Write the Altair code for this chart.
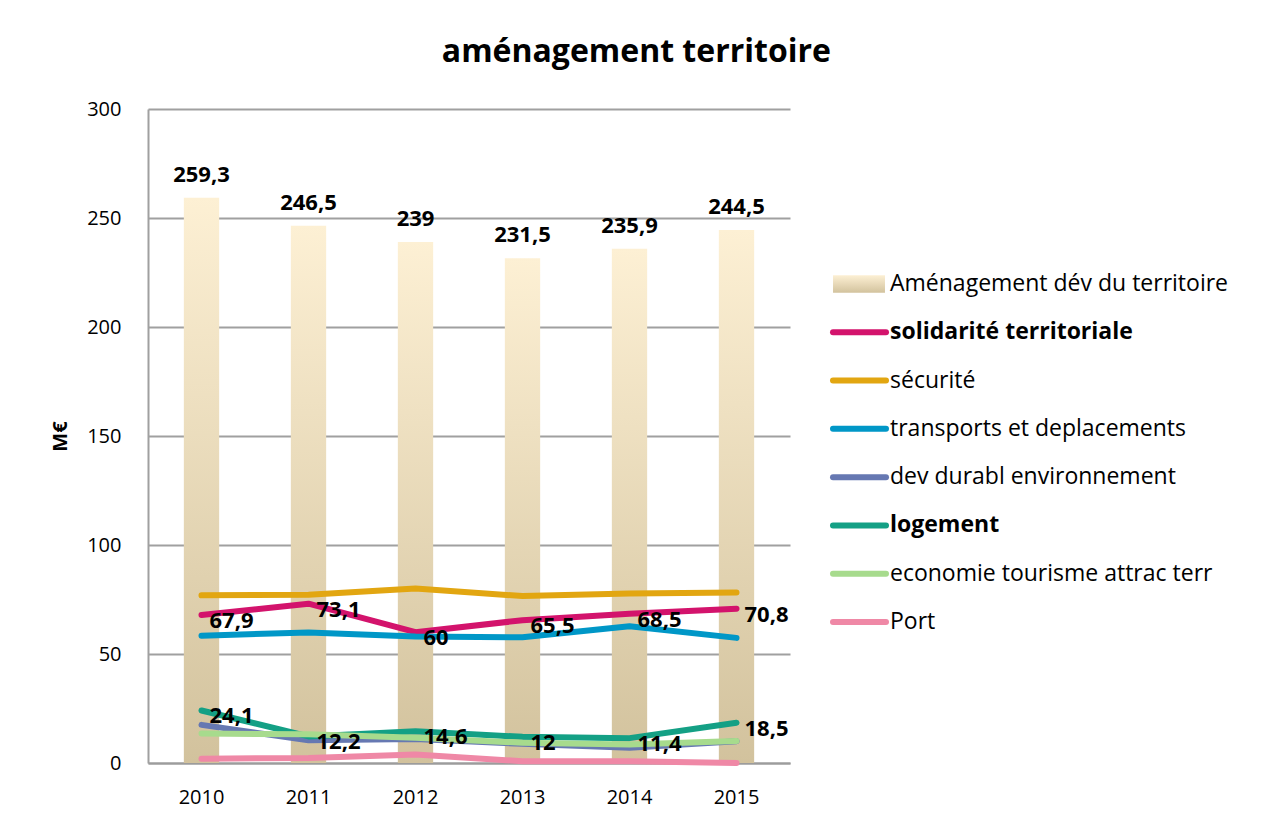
import altair as alt
import pandas as pd

FONT = "Open Sans"

years = ["2010", "2011", "2012", "2013", "2014", "2015"]
amenagement = [259.3, 246.5, 239, 231.5, 235.9, 244.5]

series_names = [
    "solidarité territoriale",
    "sécurité",
    "transports et deplacements",
    "dev durabl environnement",
    "logement",
    "economie tourisme attrac terr",
    "Port",
]
solidarite = [67.9, 73.1, 60, 65.5, 68.5, 70.8]
securite = [76.9, 77.2, 80.0, 76.6, 77.7, 78.2]
transports = [58.4, 59.9, 58.0, 57.7, 62.7, 57.4]
dev_durable = [17.5, 10.4, 11.0, 8.8, 7.0, 10.0]
logement = [24.1, 12.2, 14.6, 12.0, 11.4, 18.5]
economie = [13.5, 13.2, 11.6, 9.3, 8.5, 10.1]
port = [2.0, 2.3, 3.9, 0.8, 0.8, 0.0]
series_values = [solidarite, securite, transports, dev_durable, logement, economie, port]
series_colors = ["#D3136C", "#E2A611", "#0097C7", "#6678B2", "#14A085", "#A7DB8D", "#EF88A6"]
labelled_series = ["solidarité territoriale", "logement"]
bold_legend = ["solidarité territoriale", "logement"]
bar_name = "Aménagement dév du territoire"
y_ticks = [0, 50, 100, 150, 200, 250, 300]

bar_df = pd.DataFrame({"year": years, "value": amenagement})
rows = []
for name, vals in zip(series_names, series_values):
    for y, v in zip(years, vals):
        rows.append({"series": name, "year": y, "value": v})
line_df = pd.DataFrame(rows)
legend_names = [bar_name] + series_names
legend_df = pd.DataFrame({"name": legend_names})

bar_gradient = alt.Gradient(
    gradient="linear",
    stops=[alt.GradientStop(color="#FDF0D4", offset=0), alt.GradientStop(color="#D2C29D", offset=1)],
    x1=0, x2=0, y1=0, y2=1,
)

x_enc = alt.X(
    "year:O",
    scale=alt.Scale(paddingInner=0.67, paddingOuter=0.335),
    axis=alt.Axis(
        title=None, labelAngle=0, ticks=False, domainColor="#9c9c9c", domainWidth=2,
        labelFontSize=20, labelPadding=24, labelFont=FONT, labelColor="black",
    ),
)
y_enc = alt.Y(
    "value:Q",
    scale=alt.Scale(domain=[0, 300], nice=False),
    axis=alt.Axis(
        values=y_ticks, grid=True, gridColor="#a0a0a0", gridWidth=2, domainColor="#a0a0a0",
        domainWidth=2, ticks=False, labelFontSize=20, labelPadding=27, labelFont=FONT,
        labelColor="black", title="M€", titleFontSize=20, titleFontWeight="bold",
        titleFont=FONT, titleColor="black", titlePadding=16,
    ),
)

bars = alt.Chart(bar_df).mark_bar(color=bar_gradient).encode(x=x_enc, y=y_enc)
bar_text = (
    alt.Chart(bar_df)
    .transform_calculate(lab="replace(toString(datum.value), '.', ',')")
    .mark_text(dy=-23, fontSize=22, fontWeight="bold", font=FONT, color="black")
    .encode(x=x_enc, y=y_enc, text="lab:N")
)
lines = (
    alt.Chart(line_df)
    .mark_line(strokeWidth=6, strokeCap="round", strokeJoin="round")
    .encode(
        x=x_enc,
        y=y_enc,
        color=alt.Color("series:N", scale=alt.Scale(domain=series_names, range=series_colors), legend=None),
        detail="series:N",
    )
)
line_text = (
    alt.Chart(line_df)
    .transform_filter(alt.FieldOneOfPredicate(field="series", oneOf=labelled_series))
    .transform_calculate(lab="replace(toString(datum.value), '.', ',')")
    .mark_text(align="left", baseline="middle", dx=8, dy=6, fontSize=22, fontWeight="bold", font=FONT, color="black")
    .encode(x=x_enc, y=y_enc, text="lab:N")
)
main = alt.layer(bars, bar_text, lines, line_text).properties(width=642, height=654)

leg_y = alt.Y("name:N", sort=legend_names,
              scale=alt.Scale(type="point", domain=legend_names, range=[175, 513], padding=0), axis=None)
leg_color = alt.Color("name:N", scale=alt.Scale(domain=legend_names, range=["#E8DCC0"] + series_colors), legend=None)

leg_bar = (
    alt.Chart(legend_df)
    .transform_filter(alt.datum.name == bar_name)
    .mark_point(shape="M-1,-0.34H1V0.34H-1Z", size=2700, filled=True, fill=bar_gradient, opacity=1, strokeWidth=0)
    .encode(x=alt.value(49), y=leg_y)
)
leg_rules = (
    alt.Chart(legend_df)
    .transform_filter(alt.datum.name != bar_name)
    .mark_rule(strokeWidth=6, strokeCap="round")
    .encode(x=alt.value(23), x2=alt.value(76), y=leg_y, color=leg_color)
)
leg_text_norm = (
    alt.Chart(legend_df)
    .transform_filter(~alt.FieldOneOfPredicate(field="name", oneOf=bold_legend))
    .mark_text(align="left", baseline="middle", fontSize=23, font=FONT, color="black")
    .encode(x=alt.value(80), y=leg_y, text="name:N")
)
leg_text_bold = (
    alt.Chart(legend_df)
    .transform_filter(alt.FieldOneOfPredicate(field="name", oneOf=bold_legend))
    .mark_text(align="left", baseline="middle", fontSize=23, fontWeight="bold", font=FONT, color="black")
    .encode(x=alt.value(80), y=leg_y, text="name:N")
)
legend = alt.layer(leg_bar, leg_rules, leg_text_norm, leg_text_bold).properties(width=430, height=654)

chart = (
    alt.hconcat(main, legend, spacing=20, bounds="flush")
    .properties(
        title=alt.Title("aménagement territoire", fontSize=32, fontWeight="bold", font=FONT,
                        color="black", anchor="middle", offset=30, dx=-9),
        padding={"left": 42, "top": 28, "right": 5, "bottom": 5},
    )
    .configure_view(stroke=None)
)

chart.save("out.html", embed_options={"renderer": "svg", "actions": False})
